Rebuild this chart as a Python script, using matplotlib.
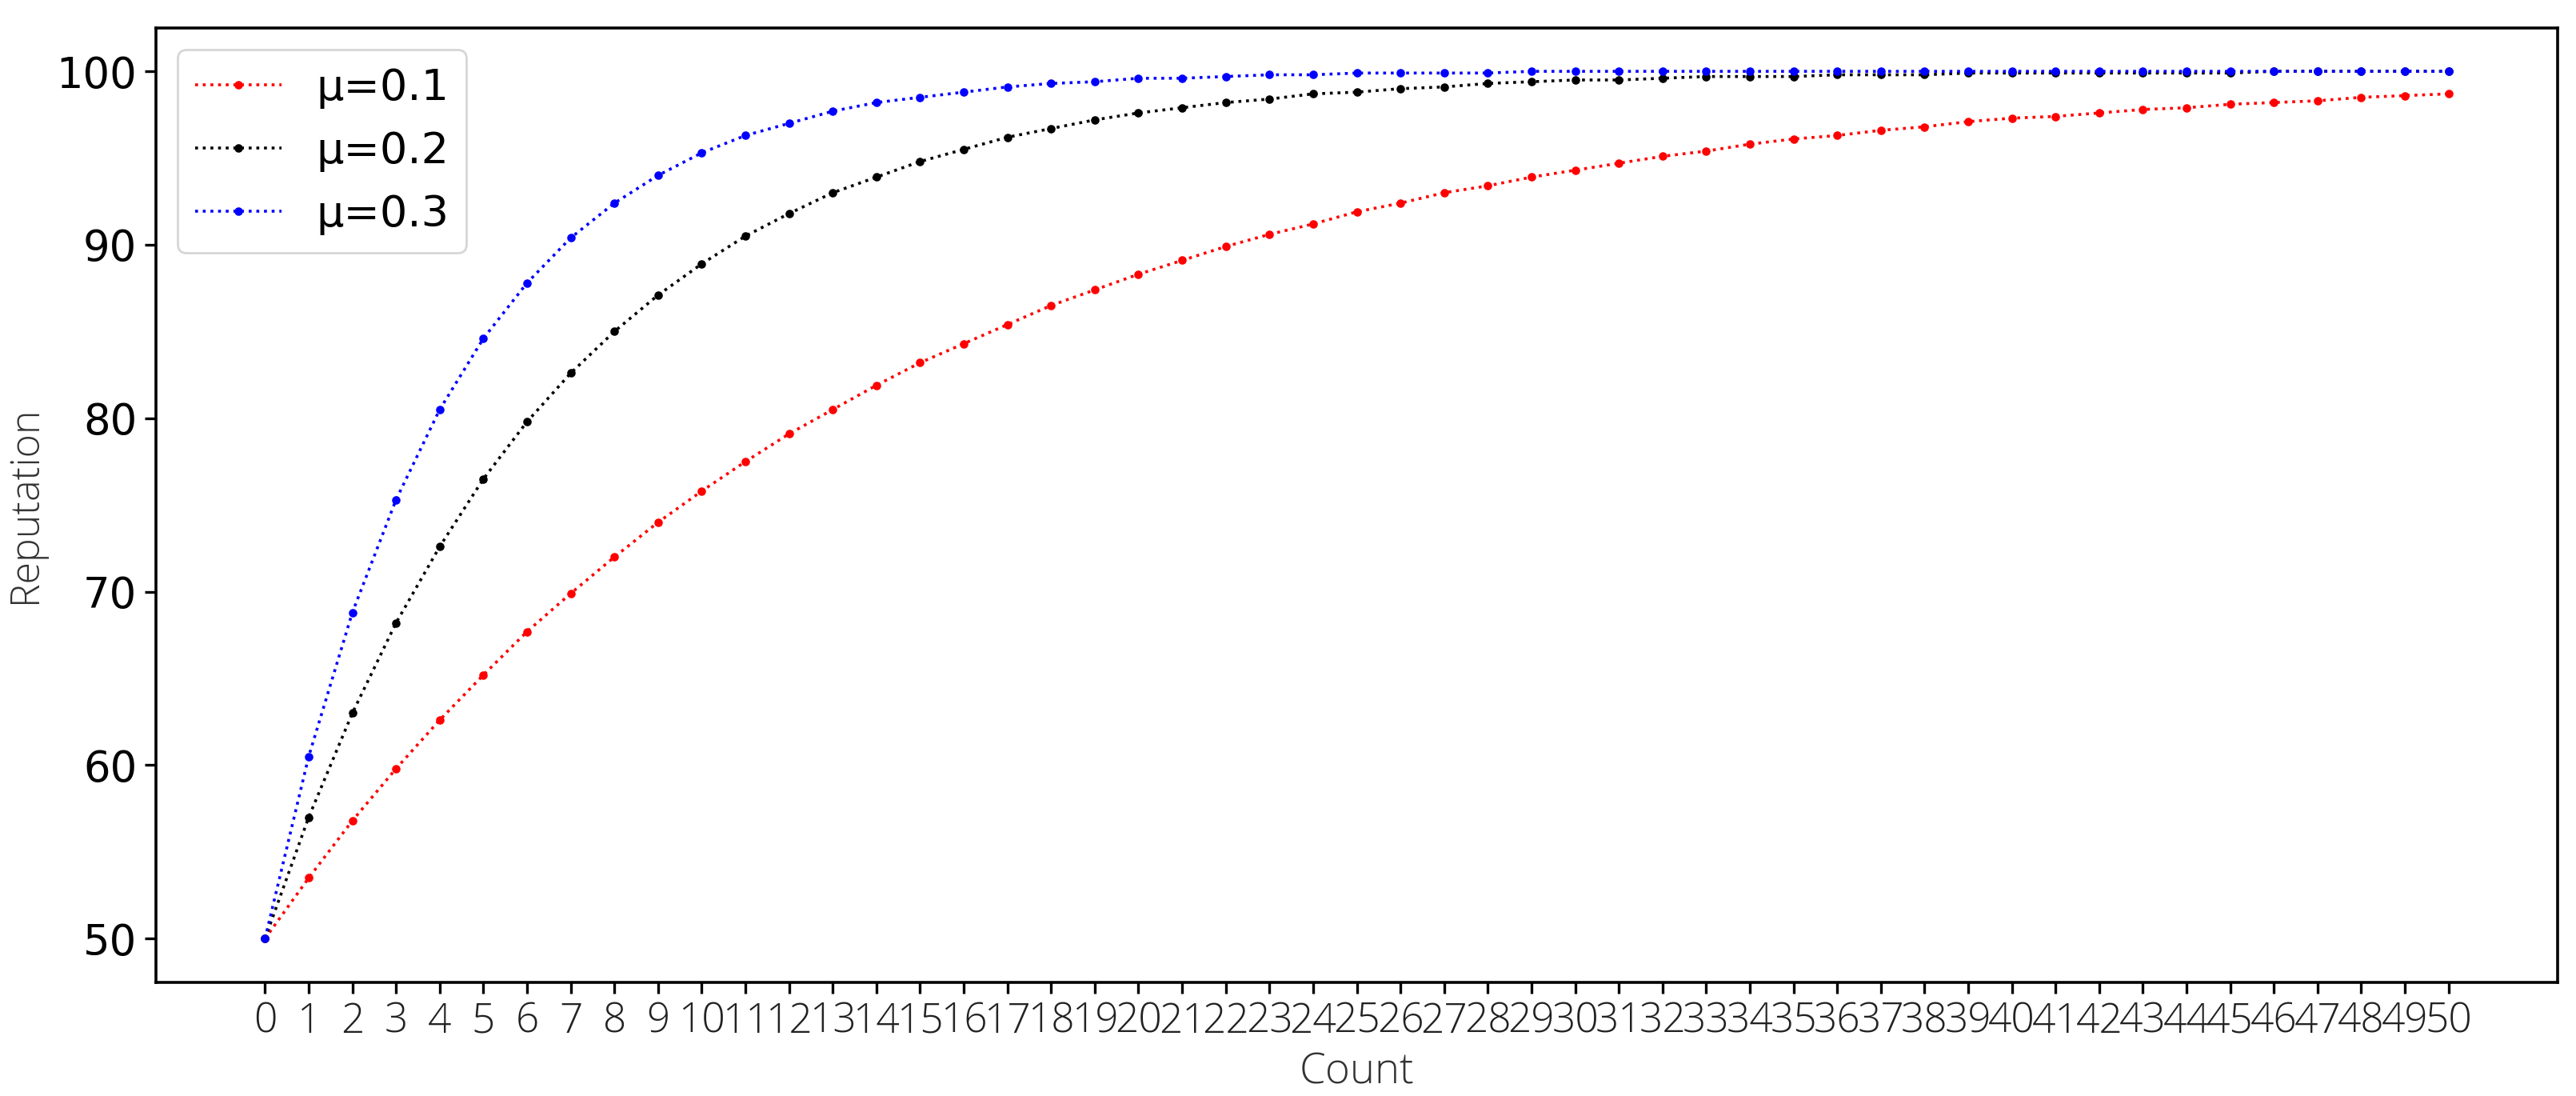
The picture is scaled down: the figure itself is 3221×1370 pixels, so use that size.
import matplotlib.pyplot as plt

counts = list(range(51))

# reputation per count
rep_mu1 = [50.0, 53.5, 56.8, 59.8, 62.6, 65.2, 67.7, 69.9, 72.0, 74.0,
           75.8, 77.5, 79.1, 80.5, 81.9, 83.2, 84.3, 85.4, 86.5, 87.4,
           88.3, 89.1, 89.9, 90.6, 91.2, 91.9, 92.4, 93.0, 93.4, 93.9,
           94.3, 94.7, 95.1, 95.4, 95.8, 96.1, 96.3, 96.6, 96.8, 97.1,
           97.3, 97.4, 97.6, 97.8, 97.9, 98.1, 98.2, 98.3, 98.5, 98.6,
           98.7]
rep_mu2 = [50.0, 57.0, 63.0, 68.2, 72.6, 76.5, 79.8, 82.6, 85.0, 87.1,
           88.9, 90.5, 91.8, 93.0, 93.9, 94.8, 95.5, 96.2, 96.7, 97.2,
           97.6, 97.9, 98.2, 98.4, 98.7, 98.8, 99.0, 99.1, 99.3, 99.4,
           99.5, 99.5, 99.6, 99.7, 99.7, 99.7, 99.8, 99.8, 99.8, 99.9,
           99.9, 99.9, 99.9, 99.9, 99.9, 99.9, 100.0, 100.0, 100.0, 100.0,
           100.0]
rep_mu3 = [50.0, 60.5, 68.8, 75.3, 80.5, 84.6, 87.8, 90.4, 92.4, 94.0,
           95.3, 96.3, 97.0, 97.7, 98.2, 98.5, 98.8, 99.1, 99.3, 99.4,
           99.6, 99.6, 99.7, 99.8, 99.8, 99.9, 99.9, 99.9, 99.9, 100.0,
           100.0, 100.0, 100.0, 100.0, 100.0, 100.0, 100.0, 100.0, 100.0, 100.0,
           100.0, 100.0, 100.0, 100.0, 100.0, 100.0, 100.0, 100.0, 100.0, 100.0,
           100.0]
labels = ["μ=0.1", "μ=0.2", "μ=0.3"]
colors = ["red", "black", "blue"]

fig = plt.figure(figsize=(16.105, 6.85), dpi=200)
ax = fig.add_axes([0.0605, 0.104, 0.9324, 0.8705])

for ys, lab, c in zip([rep_mu1, rep_mu2, rep_mu3], labels, colors):
    ax.plot(counts, ys, linestyle=':', color=c, marker='o', markersize=2.8,
            linewidth=1.3, label=lab)

thin = ['Open Sans', 'DejaVu Sans']
ax.set_xticks(counts)
ax.set_xticklabels([str(c) for c in counts], family=thin, weight='light',
                   fontsize=18.5, color='#222222')
ax.set_yticks([50, 60, 70, 80, 90, 100])
ax.tick_params(axis='y', labelsize=19)
ax.tick_params(axis='both', length=5, width=1.2)

ax.set_xlabel("Count", fontsize=19, color='#333333', family=thin, weight='light', labelpad=4)
ax.set_ylabel("Reputation", fontsize=18, color='#333333', family=thin, weight='light', labelpad=5)

for s in ax.spines.values():
    s.set_linewidth(1.3)

ax.legend(loc='upper left', fontsize=19.5)

fig.savefig("out.png", dpi=200)
